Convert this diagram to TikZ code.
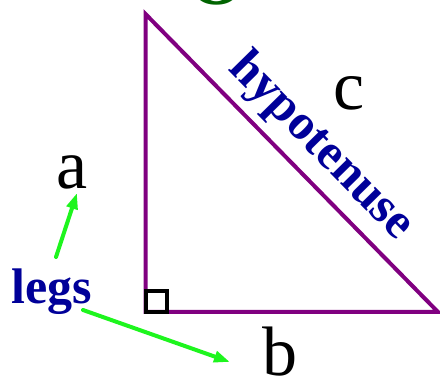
\documentclass[tikz,border=0pt]{standalone}
\usepackage{fontspec}
\setmainfont{Liberation Serif}
\usetikzlibrary{arrows.meta}
\definecolor{tripurple}{RGB}{128,0,128}
\definecolor{navytext}{RGB}{0,0,153}
\definecolor{limegreen}{RGB}{30,245,30}
\definecolor{darkgreentxt}{RGB}{0,100,0}
\begin{document}
\begin{tikzpicture}[x=1pt,y=-1pt,
  triside/.style={draw=tripurple,line width=4pt,line join=miter},
  rightmark/.style={draw=black,line width=4pt},
  letter/.style={font=\fontsize{70}{80}\selectfont,text=black,inner sep=0pt,anchor=base},
  bluelabel/.style={font=\bfseries\fontsize{50}{60}\selectfont,text=navytext,inner sep=0pt},
  legarrow/.style={draw=limegreen,line width=4pt,-{Triangle[length=16pt,width=11pt]}}]
\useasboundingbox (0,0) rectangle (440,379);
% triangle
\coordinate (A) at (145.5,14);
\coordinate (B) at (145.5,312);
\coordinate (C) at (438,312);
\draw[triside] (A) -- (B) -- (C) -- cycle;
% right-angle mark
\draw[rightmark] (145.5,291) rectangle (167,312);
% partial green glyph at top
\node[inner sep=0pt,anchor=base,text=darkgreentxt,font=\bfseries\fontsize{70}{80}\selectfont] (topglyph) at (217,5) {O};
% labels
\node[letter] (a) at (72,188.5) {a};
\node[letter] (b) at (280,376) {b};
\node[letter] (c) at (349,110) {c};
\node[bluelabel,anchor=base] (legs) at (52,304) {legs};
\node[bluelabel,rotate=-45.5] (hyp) at (321,147) {hypotenuse};
% arrows
\coordinate (legsA) at (56,257);
\coordinate (aTip) at (77,193);
\coordinate (legsB) at (83,310);
\coordinate (bTip) at (230,362);
\draw[legarrow,line cap=round] (legsA) -- (aTip);
\draw[legarrow,line cap=round] (legsB) -- (bTip);
\end{tikzpicture}
\end{document}
